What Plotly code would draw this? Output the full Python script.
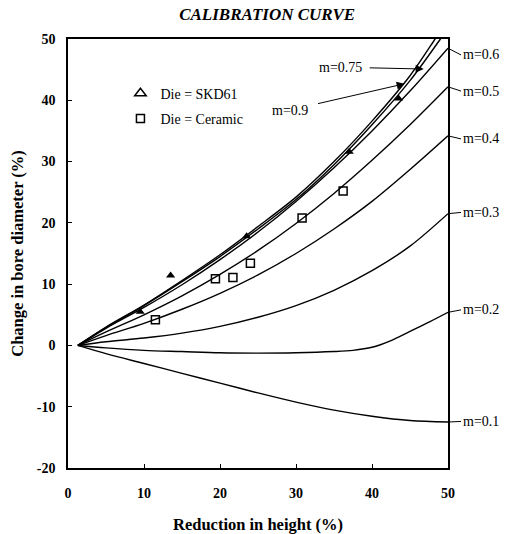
import plotly.graph_objects as go

# ---- data ----
X_GRID = [1.3, 5, 10, 15, 20, 25, 30, 35, 40, 45, 50]
M01 = [0, -1.35, -2.95, -4.55, -6.15, -7.75, -9.25, -10.55, -11.55, -12.25, -12.5]
X_02 = [1.3, 5, 10, 15, 20, 25, 30, 35, 37.5, 40, 42.5, 45, 47.5, 50]
M02 = [0, -0.4, -0.8, -1.0, -1.2, -1.25, -1.2, -1.0, -0.8, -0.3, 0.8, 2.3, 3.8, 5.4]
M03 = [0, 0.6, 1.2, 2.0, 3.1, 4.6, 6.5, 9.0, 12.2, 16.2, 21.5]
M04 = [0, 1.6, 3.6, 5.9, 8.5, 11.5, 15.0, 19.0, 23.5, 28.7, 34.2]
M05 = [0, 2.2, 5.0, 8.1, 11.6, 15.5, 19.9, 24.8, 30.2, 36.0, 42.2]
M06 = [0, 2.8, 6.2, 9.9, 14.0, 18.5, 23.5, 29.0, 35.0, 41.5, 48.5]
X_075 = [1.3, 5, 10, 15, 20, 25, 30, 35, 40, 45, 49, 50]
M075 = [0, 2.9, 6.5, 10.4, 14.5, 19.0, 23.8, 29.5, 36.0, 43.2, 50.0, 51.8]
X_09 = [1.3, 5, 10, 15, 20, 25, 30, 35, 40, 45, 48.3, 49]
M09 = [0, 3.0, 6.6, 10.6, 14.8, 19.4, 24.2, 30.0, 36.6, 44.0, 50.0, 51.3]

SKD61_X = [9.5, 13.5, 23.5, 37.0, 43.5]
SKD61_Y = [5.5, 11.4, 17.8, 31.6, 40.3]
CERAMIC_X = [11.5, 19.4, 21.7, 24.0, 30.8, 36.2]
CERAMIC_Y = [4.2, 10.9, 11.1, 13.4, 20.8, 25.2]

RIGHT_LABELS = ["m=0.6", "m=0.5", "m=0.4", "m=0.3", "m=0.2", "m=0.1"]
RIGHT_LABEL_Y = [47.4, 41.5, 33.7, 21.7, 5.8, -12.4]
RIGHT_CURVE_END = [48.5, 42.2, 34.2, 21.5, 5.4, -12.5]

X_TICKS = [0, 10, 20, 30, 40, 50]
Y_TICKS = [-20, -10, 0, 10, 20, 30, 40, 50]
Y_TICK_TEXT = ["-20", "-10", "0", "10", "20", "30", "40", "50"]

SERIF = "Liberation Serif, Times New Roman, serif"

fig = go.Figure()

curves = [(X_GRID, M01), (X_02, M02), (X_GRID, M03), (X_GRID, M04),
          (X_GRID, M05), (X_GRID, M06), (X_075, M075), (X_09, M09)]
for xs, ys in curves:
    fig.add_trace(go.Scatter(x=xs, y=ys, mode="lines",
                             line=dict(color="black", width=1.4, shape="spline", smoothing=0.9),
                             showlegend=False, hoverinfo="skip"))

fig.add_trace(go.Scatter(x=SKD61_X, y=SKD61_Y, mode="markers",
                         marker=dict(symbol="triangle-up", size=8, color="black"),
                         showlegend=False))
fig.add_trace(go.Scatter(x=CERAMIC_X, y=CERAMIC_Y, mode="markers",
                         marker=dict(symbol="square-open", size=8, color="black",
                                     line=dict(width=1.5, color="black")),
                         showlegend=False))

# legend entries
fig.add_trace(go.Scatter(x=[None], y=[None], mode="markers", name="Die = SKD61",
                         marker=dict(symbol="triangle-up-open", size=10, color="black",
                                     line=dict(width=1.5, color="black")),
                         legendgroup="a"))
fig.add_trace(go.Scatter(x=[None], y=[None], mode="markers", name="Die = Ceramic",
                         marker=dict(symbol="square-open", size=8, color="black",
                                     line=dict(width=1.5, color="black")),
                         legendgroup="b"))

annotations = []
for lab, ly, ce in zip(RIGHT_LABELS, RIGHT_LABEL_Y, RIGHT_CURVE_END):
    dy_px = -(ly - ce) * 6.13
    annotations.append(dict(x=50, y=ce, xref="x", yref="y", text=lab,
                            showarrow=True, arrowhead=0, arrowwidth=1, arrowcolor="black",
                            ax=13, ay=dy_px, xanchor="left", yanchor="middle",
                            font=dict(family=SERIF, size=14, color="black")))

# m=0.75 and m=0.9 pointer labels
annotations.append(dict(x=46.8, y=45.1, xref="x", yref="y", axref="x", ayref="y",
                        ax=39.5, ay=45.3, text="", showarrow=True, arrowhead=2,
                        arrowsize=1.6, arrowwidth=1, arrowcolor="black"))
annotations.append(dict(x=39.0, y=45.3, xref="x", yref="y", text="m=0.75",
                        showarrow=False, xanchor="right", yanchor="middle",
                        font=dict(family=SERIF, size=14, color="black")))
annotations.append(dict(x=44.3, y=42.7, xref="x", yref="y", axref="x", ayref="y",
                        ax=32.7, ay=39.4, text="", showarrow=True, arrowhead=2,
                        arrowsize=1.6, arrowwidth=1, arrowcolor="black"))
annotations.append(dict(x=31.8, y=38.4, xref="x", yref="y", text="m=0.9",
                        showarrow=False, xanchor="right", yanchor="middle",
                        font=dict(family=SERIF, size=14, color="black")))

fig.update_layout(
    width=505, height=534,
    margin=dict(l=68, r=57, t=39, b=66),
    paper_bgcolor="white", plot_bgcolor="white",
    title=dict(text="<b><i>CALIBRATION CURVE</i></b>", x=0.529, xref="container",
               y=1 - 14 / 534, yref="container", xanchor="center", yanchor="middle",
               font=dict(family=SERIF, size=17, color="black")),
    showlegend=True,
    legend=dict(x=0.138, y=0.91, xanchor="left", yanchor="top",
                bgcolor="rgba(0,0,0,0)", font=dict(family=SERIF, size=14, color="black"),
                traceorder="grouped", tracegroupgap=4, itemwidth=30),
    annotations=annotations,
)

fig.update_xaxes(range=[0, 50], tickvals=X_TICKS, ticks="inside", ticklen=4,
                 tickcolor="black", showgrid=False, zeroline=False,
                 showline=True, linecolor="black", linewidth=1.6, mirror=True,
                 ticklabelstandoff=11, automargin=False,
                 tickfont=dict(family=SERIF, size=14, color="black", weight="bold"),
                 title=dict(text="<b>Reduction in height (%)</b>", standoff=19,
                            font=dict(family=SERIF, size=16.5, color="black")))
fig.update_yaxes(range=[-20, 50], tickvals=Y_TICKS, ticktext=Y_TICK_TEXT,
                 ticks="inside", ticklen=4,
                 tickcolor="black", showgrid=False, zeroline=False,
                 showline=True, linecolor="black", linewidth=1.6, mirror=True,
                 ticklabelstandoff=8, automargin=False,
                 tickfont=dict(family=SERIF, size=14, color="black", weight="bold"),
                 title=dict(text="<b>Change in bore diameter (%)</b>", standoff=9,
                            font=dict(family=SERIF, size=16.5, color="black")))

fig.write_html("out.html", config={"displayModeBar": False},
               post_script="document.body.style.margin='0';document.body.style.padding='0';")
